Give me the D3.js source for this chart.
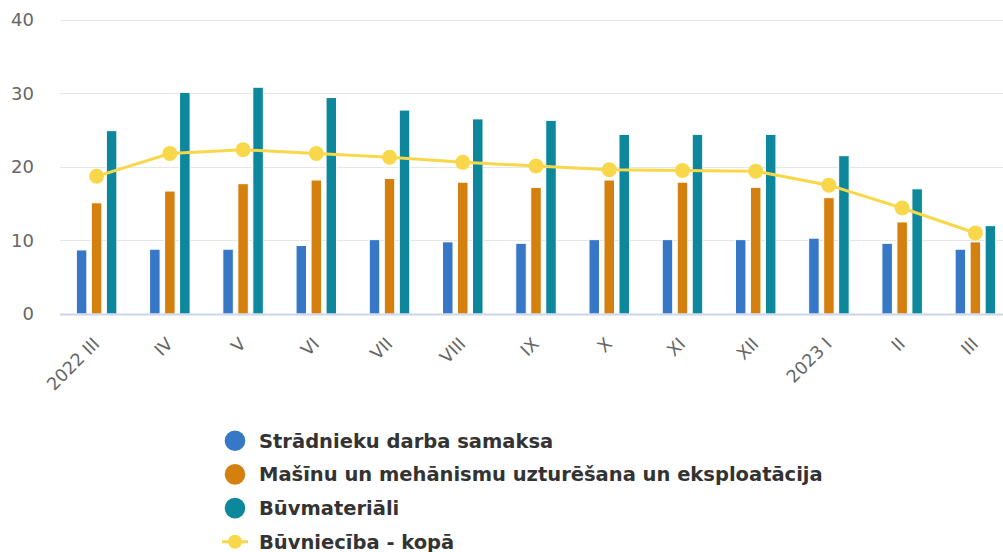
<!DOCTYPE html>
<html>
<head>
<meta charset="utf-8">
<script src="https://cdn.jsdelivr.net/npm/d3@7"></script>
<style>
  html, body { margin: 0; padding: 0; background: #fff; }
  svg { display: block; }
</style>
</head>
<body>
<svg id="chart" width="1003" height="552"></svg>
<script>
//

const categories = ['2022 III', 'IV', 'V', 'VI', 'VII', 'VIII', 'IX', 'X', 'XI', 'XII', '2023 I', 'II', 'III']
const wages = [8.7, 8.8, 8.8, 9.3, 10.1, 9.8, 9.6, 10.1, 10.1, 10.1, 10.3, 9.6, 8.8]
const machinery = [15.1, 16.7, 17.7, 18.2, 18.4, 17.9, 17.2, 18.2, 17.9, 17.2, 15.8, 12.5, 9.8]
const materials = [24.9, 30.1, 30.8, 29.4, 27.7, 26.5, 26.3, 24.4, 24.4, 24.4, 21.5, 17.0, 12.0]
const total = [18.7, 21.8, 22.3, 21.8, 21.3, 20.6, 20.1, 19.6, 19.5, 19.4, 17.5, 14.4, 11.0]
const yTicks = [0, 10, 20, 30, 40]

const barSeries = [
  {name: 'Strādnieku darba samaksa', values: wages, color: '#3677c6'},
  {name: 'Mašīnu un mehānismu uzturēšana un eksploatācija', values: machinery, color: '#d4800f'},
  {name: 'Būvmateriāli', values: materials, color: '#0c879b'}
]
const lineSeries = {name: 'Būvniecība - kopā', values: total, color: '#f8d84a'}

//

const svg = d3.select('#chart')

const x = d3.scaleBand()
  .domain(categories)
  .range([60, 1012])

const inner = d3.scaleBand()
  .domain(barSeries.map((s) => s.name))
  .range([-22.5, 22.5])
  .paddingInner(0.3)
  .paddingOuter(0.15)

const y = d3.scaleLinear()
  .domain([0, 40])
  .range([314, 19.5])

const cx = (c) => x(c) + x.bandwidth() / 2

// grid
svg.append('g')
  .selectAll('line')
  .data(yTicks.filter((t) => t > 0))
  .join('line')
  .attr('x1', 60)
  .attr('x2', 1003)
  .attr('y1', (d) => Math.round(y(d)) + 0.5)
  .attr('y2', (d) => Math.round(y(d)) + 0.5)
  .attr('stroke', '#e6e6e6')
  .attr('stroke-width', 1)

// y labels
svg.append('g')
  .selectAll('text')
  .data(yTicks)
  .join('text')
  .attr('x', 34)
  .attr('y', (d) => y(d))
  .attr('dy', '0.36em')
  .attr('text-anchor', 'end')
  .attr('fill', '#666')
  .style('font', '18px "DejaVu Sans"')
  .text((d) => d)

// bars
const groups = svg.append('g')
  .selectAll('g')
  .data(barSeries)
  .join('g')
  .attr('fill', (s) => s.color)

groups.selectAll('rect')
  .data((s) => s.values.map((v, i) => ({name: s.name, v, c: categories[i]})))
  .join('rect')
  .attr('x', (d) => cx(d.c) + inner(d.name))
  .attr('width', inner.bandwidth())
  .attr('y', (d) => y(d.v))
  .attr('height', (d) => y(0) - y(d.v))
  .attr('stroke', '#fff')
  .attr('stroke-width', 1)

// x axis line
svg.append('line')
  .attr('x1', 60)
  .attr('x2', 1003)
  .attr('y1', 314.5)
  .attr('y2', 314.5)
  .attr('stroke', '#ccd6eb')
  .attr('stroke-width', 2)

// line series
const line = d3.line()
  .x((d, i) => cx(categories[i]))
  .y((d) => y(d))

svg.append('path')
  .datum(lineSeries.values)
  .attr('d', line)
  .attr('fill', 'none')
  .attr('stroke', lineSeries.color)
  .attr('stroke-width', 3)

svg.append('g')
  .selectAll('circle')
  .data(lineSeries.values)
  .join('circle')
  .attr('cx', (d, i) => cx(categories[i]))
  .attr('cy', (d) => y(d))
  .attr('r', 7.5)
  .attr('fill', lineSeries.color)

// x labels
svg.append('g')
  .selectAll('text')
  .data(categories)
  .join('text')
  .attr('transform', (d) => `translate(${cx(d) + 4},${345}) rotate(-45)`)
  .attr('text-anchor', 'end')
  .attr('fill', '#666')
  .style('font', '17.5px "DejaVu Sans"')
  .text((d) => d)

// legend
const legendItems = barSeries.concat([lineSeries])
const legend = svg.append('g')
  .selectAll('g')
  .data(legendItems)
  .join('g')
  .attr('transform', (d, i) => `translate(235,${440.7 + i * 33.7})`)

legend.filter((d, i) => i < 3)
  .append('circle')
  .attr('r', 10.3)
  .attr('fill', (d) => d.color)

legend.filter((d, i) => i === 3)
  .append('line')
  .attr('x1', -13)
  .attr('x2', 13)
  .attr('stroke', (d) => d.color)
  .attr('stroke-width', 3)

legend.filter((d, i) => i === 3)
  .append('circle')
  .attr('r', 7)
  .attr('fill', (d) => d.color)

legend.append('text')
  .attr('x', 24)
  .attr('dy', '0.36em')
  .attr('fill', '#333')
  .style('font', 'bold 19.5px "DejaVu Sans"')
  .text((d) => d.name)
</script>
</body>
</html>
